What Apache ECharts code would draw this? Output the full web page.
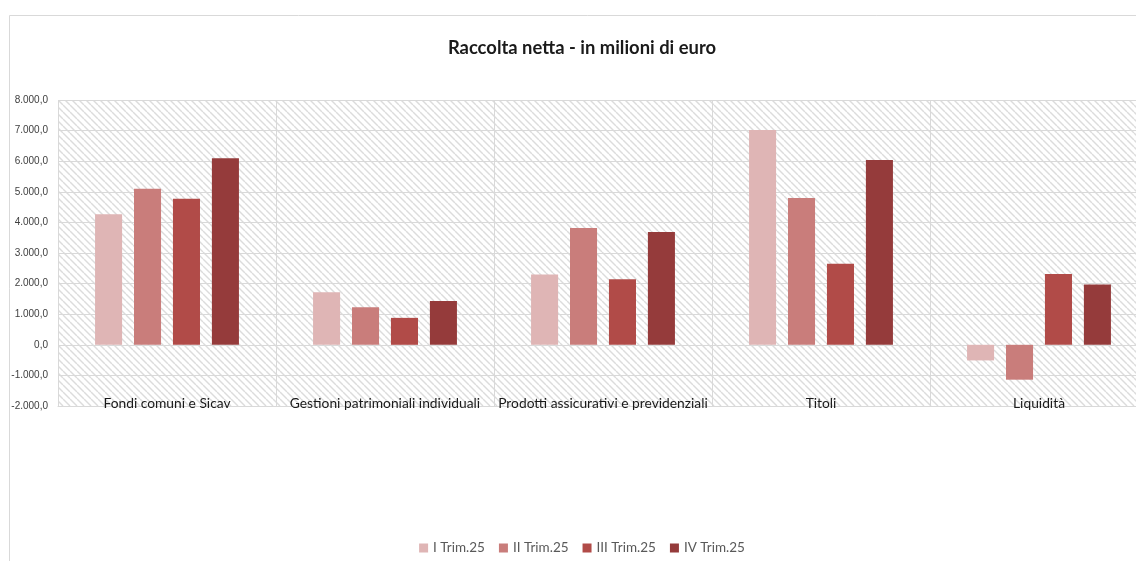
<!DOCTYPE html>
<html>
<head>
<meta charset="utf-8">
<script src="https://cdn.jsdelivr.net/npm/echarts@6/dist/echarts.min.js"></script>
<style>
  html, body { margin: 0; padding: 0; background: #ffffff; overflow: hidden; }
  #chart { width: 1164px; height: 561px; }
</style>
</head>
<body>
<div id="chart"></div>
<script>
// Categories and quarterly net inflows (million euro)
const categories = [
  'Fondi comuni e Sicav',
  'Gestioni patrimoniali individuali',
  'Prodotti assicurativi e previdenziali',
  'Titoli',
  'Liquidità'
];
const seriesNames = ['I Trim.25', 'II Trim.25', 'III Trim.25', 'IV Trim.25'];
const trim1 = [4270, 1720, 2300, 7020, -510];
const trim2 = [5100, 1230, 3820, 4800, -1140];
const trim3 = [4770, 880, 2140, 2650, 2310];
const trim4 = [6100, 1430, 3690, 6040, 1970];
const yTicks = { min: -2000, max: 8000, step: 1000 };

const colors = ['#dfb5b5', '#c97d7b', '#b14b48', '#953b3b'];
const FONT = 'Lato, "Open Sans", sans-serif';

// Diagonal hatch used as the plot background
function hatchPattern() {
  const c = document.createElement('canvas');
  c.width = 7; c.height = 7;
  const g = c.getContext('2d');
  g.fillStyle = '#ffffff';
  g.fillRect(0, 0, 7, 7);
  g.strokeStyle = '#dcdcdc';
  g.lineWidth = 1.4;
  for (let k = -7; k <= 7; k += 7) {
    g.beginPath();
    g.moveTo(k, 0);
    g.lineTo(k + 7, 7);
    g.stroke();
  }
  return c;
}

function fmtIt(v) {
  const neg = v < 0;
  const s = Math.abs(v).toFixed(0).replace(/\B(?=(\d{3})+(?!\d))/g, '.');
  return (neg ? '-' : '') + s + ',0';
}

const chart = echarts.init(document.getElementById('chart'), null, { renderer: 'canvas' });
const data = [trim1, trim2, trim3, trim4];

chart.setOption({
  animation: false,
  backgroundColor: '#ffffff',
  title: {
    text: 'Raccolta netta - in milioni di euro',
    left: 'center',
    top: 34,
    textStyle: { fontFamily: FONT, fontWeight: 'bold', fontSize: 18.4, color: '#1a1a1a' }
  },
  graphic: [{
    type: 'rect',
    x: 0, y: 0,
    shape: { x: 9.5, y: 15.5, width: 1300, height: 700 },
    style: { fill: 'none', stroke: '#d9d9d9', lineWidth: 1 },
    silent: true,
    z: -1
  }],
  legend: {
    bottom: 1,
    left: 'center',
    itemWidth: 9,
    itemHeight: 9,
    itemGap: 14,
    icon: 'rect',
    textStyle: { fontFamily: FONT, fontSize: 13.5, color: '#595959' },
    data: seriesNames
  },
  grid: {
    left: 58,
    right: 16,
    top: 100,
    bottom: 155,
    show: true,
    borderWidth: 0,
    backgroundColor: { image: hatchPattern(), repeat: 'repeat' }
  },
  xAxis: {
    type: 'category',
    data: categories,
    axisLine: { show: true, onZero: false, lineStyle: { color: '#d9d9d9' } },
    axisTick: { show: false },
    splitLine: { show: true, lineStyle: { color: '#d9d9d9', width: 1 } },
    axisLabel: {
      margin: -2,
      verticalAlign: 'middle',
      fontFamily: FONT,
      fontSize: 13.8,
      color: '#1a1a1a',
      interval: 0
    },
    z: 10
  },
  yAxis: {
    type: 'value',
    min: yTicks.min,
    max: yTicks.max,
    interval: yTicks.step,
    axisLine: { show: false },
    axisTick: { show: false },
    splitLine: { show: true, lineStyle: { color: '#d9d9d9', width: 1 } },
    axisLabel: {
      margin: 10,
      fontFamily: '"Liberation Sans", Arial, sans-serif',
      fontSize: 10,
      color: '#404040',
      formatter: fmtIt
    }
  },
  series: seriesNames.map((name, i) => ({
    name: name,
    type: 'bar',
    data: data[i],
    barCategoryGap: '34%',
    barGap: '44%',
    itemStyle: { color: colors[i] }
  }))
});
</script>
</body>
</html>
